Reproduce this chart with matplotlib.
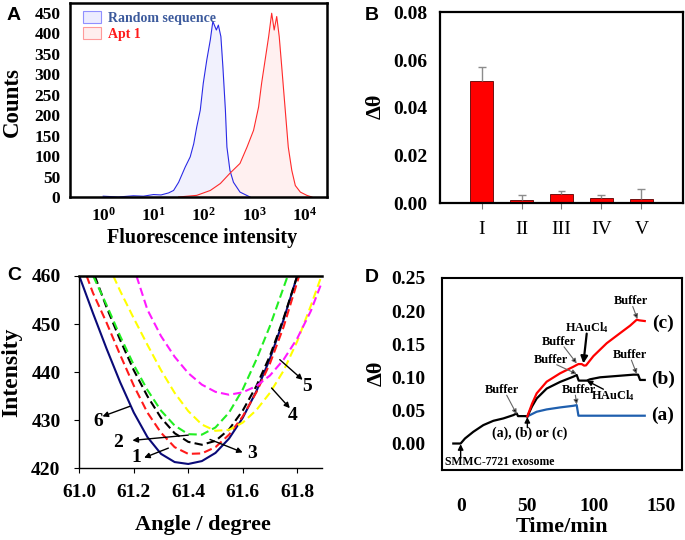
import numpy as np
import matplotlib
matplotlib.use("Agg")
import matplotlib.pyplot as plt
from matplotlib.patches import Patch

plt.rcParams['font.family'] = ['Liberation Serif', 'DejaVu Serif']
plt.rcParams['font.weight'] = 'bold'
plt.rcParams['axes.labelweight'] = 'bold'
plt.rcParams['mathtext.fontset'] = 'custom'
plt.rcParams['mathtext.rm'] = 'Liberation Serif:bold'
plt.rcParams['mathtext.it'] = 'Liberation Serif:bold'
plt.rcParams['mathtext.bf'] = 'Liberation Serif:bold'

# ---- A: flow cytometry histograms (x as log10 of intensity)
blue_logx = [0.0, 0.3, 0.6, 0.8, 1.0, 1.15, 1.3, 1.4, 1.5, 1.63, 1.73, 1.8, 1.86, 1.93,
             1.99, 2.06, 2.13, 2.18, 2.25, 2.29, 2.34, 2.38, 2.43, 2.46, 2.52, 2.59, 2.72, 2.92]
blue_counts = [2, 0, 3, 2, 6, 5, 10, 16, 36, 73, 98, 130, 171, 212,
               278, 335, 384, 429, 408, 420, 392, 318, 212, 122, 65, 36, 12, 0]
red_logx = [1.5, 1.86, 2.13, 2.33, 2.52, 2.72, 2.86, 2.99, 3.09, 3.15, 3.22, 3.29, 3.35,
            3.40, 3.45, 3.50, 3.55, 3.62, 3.68, 3.75, 3.82, 3.92, 4.05, 4.15]
red_counts = [0, 4, 16, 33, 58, 82, 122, 163, 220, 278, 335, 392, 449,
              408, 441, 392, 318, 212, 122, 65, 28, 12, 4, 0]
legend_labels = ["Random sequence", "Apt 1"]

# ---- B: bar chart
groups = ["I", "II", "III", "IV", "V"]
dtheta = [0.0513, 0.0014, 0.0038, 0.0021, 0.0018]
dtheta_err = [0.0057, 0.0021, 0.0012, 0.0014, 0.0041]

# ---- C: SPR curves
c1_x = [61.027, 61.05, 61.10, 61.15, 61.20, 61.25, 61.30, 61.35, 61.40, 61.45, 61.50, 61.55, 61.60, 61.65, 61.70, 61.75, 61.807]
c1_y = [460, 456.5, 450.3, 443.6, 437.2, 431.6, 427.4, 424.4, 423.0, 423.1, 424.4, 427.0, 430.8, 435.8, 441.8, 449.4, 460]
c2_x = [61.051, 61.10, 61.15, 61.20, 61.25, 61.30, 61.35, 61.40, 61.45, 61.50, 61.55, 61.60, 61.65, 61.70, 61.74, 61.765]
c2_y = [460, 454.0, 447.5, 441.5, 436.3, 432.0, 428.9, 427.1, 427.0, 428.5, 431.6, 436.4, 442.6, 449.6, 456.0, 460]
c3_x = [61.057, 61.10, 61.15, 61.20, 61.25, 61.30, 61.35, 61.40, 61.45, 61.50, 61.55, 61.60, 61.65, 61.70, 61.75, 61.80]
c3_y = [460, 453.5, 446.7, 440.4, 435.0, 430.5, 427.3, 425.5, 424.9, 425.7, 428.1, 432.0, 437.1, 443.4, 451.2, 460]
c4_x = [61.125, 61.15, 61.20, 61.25, 61.30, 61.35, 61.40, 61.45, 61.50, 61.55, 61.60, 61.65, 61.70, 61.75, 61.80, 61.85, 61.889]
c4_y = [460, 456.9, 451.2, 445.7, 440.4, 435.7, 431.9, 429.1, 427.8, 428.0, 429.5, 432.1, 435.7, 440.3, 446.4, 453.8, 460]
c5_x = [61.21, 61.25, 61.30, 61.35, 61.40, 61.45, 61.50, 61.55, 61.60, 61.65, 61.70, 61.75, 61.80, 61.85, 61.889]
c5_y = [460, 453.0, 447.5, 443.2, 439.8, 437.4, 435.9, 435.3, 435.8, 437.1, 439.3, 442.6, 447.0, 452.7, 458.5]
c6_x = [61.00, 61.05, 61.10, 61.15, 61.20, 61.25, 61.30, 61.35, 61.40, 61.45, 61.50, 61.55, 61.60, 61.65, 61.70, 61.75, 61.80]
c6_y = [460, 452.3, 444.9, 437.9, 431.6, 426.5, 423.0, 421.3, 420.9, 421.5, 423.2, 426.2, 430.5, 436.0, 442.8, 450.9, 460]

# ---- D: sensorgrams
d0_t = [-5.5, 0, 3.25, 9.5, 17, 24.5, 32, 39.5, 42, 43, 48.25, 50]
d0_y = [0, 0, 0.0076, 0.0177, 0.0278, 0.0343, 0.0379, 0.0429, 0.0455, 0.0414, 0.0414, 0.041]
da_t = [50, 57, 64.5, 74.5, 84.5, 87, 88.3, 138]
da_y = [0.041, 0.048, 0.0515, 0.0545, 0.057, 0.058, 0.042, 0.042]
db_t = [50, 53.5, 57, 64.5, 74.5, 84.5, 87, 88.5, 94.5, 97, 104.5, 117, 129.5, 133, 134.5, 138]
db_y = [0.041, 0.056, 0.068, 0.083, 0.093, 0.101, 0.1035, 0.095, 0.095, 0.097, 0.100, 0.102, 0.104, 0.104, 0.096, 0.096]
dc_t = [50, 53.5, 57, 64.5, 74.5, 84.5, 88.25, 90.75, 92.5, 94, 99.5, 109.5, 119.5, 127, 132, 134, 138]
dc_y = [0.041, 0.060, 0.0758, 0.0934, 0.106, 0.116, 0.120, 0.120, 0.1177, 0.118, 0.132, 0.1515, 0.1667, 0.178, 0.187, 0.186, 0.185]

W, H = 685, 540
fig = plt.figure(figsize=(W / 100, H / 100), dpi=100)


def box(l, t, r, b):
    return [l / W, 1 - b / H, (r - l) / W, (b - t) / H]


# ================= A
axA = fig.add_axes(box(70, 3, 327, 197))
bx = 10 ** np.array(blue_logx)
rx = 10 ** np.array(red_logx)
axA.fill_between(bx, blue_counts, color='#f1f1fd', lw=0)
axA.fill_between(rx, red_counts, color='#fff0f0', lw=0)
axA.plot(bx, blue_counts, color='#2a2ae6', lw=0.8)
axA.plot(rx, red_counts, color='#ff2a2a', lw=0.8)
axA.set_xscale('log')
axA.set_xlim(10 ** -0.66, 10 ** 4.45)
axA.set_ylim(0, 474)
axA.set_xticks([1, 10, 100, 1000, 10000])
axA.set_xticklabels(['10$^{%d}$' % k for k in range(5)])
axA.xaxis.set_minor_locator(plt.NullLocator())
axA.set_yticks(range(0, 451, 50))
axA.tick_params(length=0, labelsize=12.5, pad=7)
for s in axA.spines.values():
    s.set_linewidth(1.8)
axA.set_xlabel('Fluorescence intensity', fontsize=14.5)
axA.set_ylabel('Counts', fontsize=16.5)
axA.xaxis.set_label_coords(0.516, -0.211)
axA.yaxis.set_label_coords(-0.226, 0.487)
axA.xaxis.label.set_va('center')
axA.yaxis.label.set_va('center')
handles = [Patch(facecolor='#ececff', edgecolor='#9090ff', lw=0.8),
           Patch(facecolor='#ffeeee', edgecolor='#ff9a9a', lw=0.8)]
axA.legend(handles, legend_labels, loc='upper left', bbox_to_anchor=(0.028, 0.985),
           frameon=False, fontsize=10, handlelength=1.3, handleheight=0.9,
           handletextpad=0.5, labelspacing=0.15, borderaxespad=0,
           labelcolor=['#3c5a9c', '#ff1a1a'])

# ================= B
axB = fig.add_axes(box(440, 12.3, 683, 203.3))
pos = np.arange(1, len(groups) + 1)
vals = np.array(dtheta)
errs = np.array(dtheta_err)
axB.bar(pos, vals, width=0.58, color='#ff0000', edgecolor='#5a0000', lw=0.6, zorder=2)
axB.vlines(pos, vals, vals + errs, color='#8c8c8c', lw=1, zorder=3)
axB.hlines(vals + errs, pos - 0.1, pos + 0.1, color='#8c8c8c', lw=1, zorder=3)
axB.set_xlim(-0.04, 6.04)
axB.set_ylim(0, 0.08)
axB.set_xticks(pos)
axB.set_xticklabels(groups, fontweight='normal', fontsize=14)
axB.set_yticks([0, 0.02, 0.04, 0.06, 0.08])
axB.set_yticklabels(['0.00', '0.02', '0.04', '0.06', '0.08'])
axB.tick_params(axis='y', length=0, labelsize=14, pad=9)
axB.tick_params(axis='x', length=4, width=0.8, color='#777777', pad=9)
for s in axB.spines.values():
    s.set_linewidth(1.6)
axB.set_ylabel('Δθ', fontsize=16)
axB.yaxis.set_label_coords(-0.265, 0.506)
axB.yaxis.label.set_va('center')

# ================= C
axC = fig.add_axes(box(79.3, 276, 321.7, 468.3))
dash = (4, 2)
axC.plot(c6_x, c6_y, color='#0a0a78', lw=1.5)
axC.plot(c1_x, c1_y, color='#ff1a1a', lw=1.5, dashes=dash)
axC.plot(c3_x, c3_y, color='black', lw=1.5, dashes=dash)
axC.plot(c2_x, c2_y, color='#22ee22', lw=1.5, dashes=dash)
axC.plot(c4_x, c4_y, color='#ffff00', lw=1.5, dashes=dash)
axC.plot(c5_x, c5_y, color='#ff1aff', lw=1.5, dashes=dash)
axC.set_xlim(61.0, 61.89)
axC.set_ylim(420, 460)
axC.set_xticks([61.0, 61.2, 61.4, 61.6, 61.8])
axC.set_xticklabels(['61.0', '61.2', '61.4', '61.6', '61.8'])
axC.set_yticks([420, 430, 440, 450, 460])
axC.tick_params(length=3.5, width=0.8, labelsize=14)
axC.tick_params(axis='y', pad=10)
axC.tick_params(axis='x', pad=8)
axC.spines['right'].set_visible(False)
axC.spines['top'].set_linewidth(1.8)
axC.spines['left'].set_linewidth(1.0)
axC.spines['bottom'].set_linewidth(1.0)
axC.set_xlabel('Angle / degree', fontsize=16)
axC.set_ylabel('Intensity', fontsize=17)
axC.xaxis.set_label_coords(0.512, -0.295)
axC.yaxis.set_label_coords(-0.279, 0.502)
axC.xaxis.label.set_va('center')
axC.yaxis.label.set_va('center')
arrC = dict(arrowstyle='-|>', color='black', lw=1.0, mutation_scale=8, shrinkA=0, shrinkB=0)
for lab, tail, head, tpos in [('6', (61.186, 432.9), (61.085, 430.8), (61.07, 429.8)),
                              ('2', (61.40, 426.9), (61.195, 425.8), (61.143, 425.3)),
                              ('1', (61.327, 424.2), (61.238, 422.2), (61.208, 422.3)),
                              ('3', (61.48, 426.0), (61.60, 423.3), (61.636, 423.0)),
                              ('5', (61.736, 442.6), (61.82, 438.4), (61.837, 437.0)),
                              ('4', (61.706, 436.7), (61.773, 432.5), (61.783, 431.0))]:
    axC.annotate('', xy=head, xytext=tail, arrowprops=arrC)
    axC.text(tpos[0], tpos[1], lab, fontsize=14, ha='center', va='center')

# ================= D
axD = fig.add_axes(box(441.7, 278, 681.7, 470))
axD.plot(d0_t, d0_y, color='black', lw=1.6)
axD.plot(da_t, da_y, color='#1f5fae', lw=1.6)
axD.plot(db_t, db_y, color='black', lw=1.6)
axD.plot(dc_t, dc_y, color='#ff0000', lw=1.6)
axD.set_xlim(-14.2, 165.7)
axD.set_ylim(-0.04, 0.25)
axD.set_xticks([0, 50, 100, 150])
axD.set_yticks([0, 0.05, 0.10, 0.15, 0.20, 0.25])
axD.set_yticklabels(['0.00', '0.05', '0.10', '0.15', '0.20', '0.25'])
axD.tick_params(length=0, labelsize=14)
axD.tick_params(axis='y', pad=12)
axD.tick_params(axis='x', pad=20)
for s in axD.spines.values():
    s.set_linewidth(1.5)
axD.set_xlabel('Time/min', fontsize=16)
axD.set_ylabel('Δθ', fontsize=16)
axD.xaxis.set_label_coords(0.5, -0.297)
axD.yaxis.set_label_coords(-0.271, 0.505)
axD.xaxis.label.set_va('center')
axD.yaxis.label.set_va('center')

gray_arr = dict(arrowstyle='-|>', ec='#666666', fc='black', lw=0.8, mutation_scale=7, shrinkA=0, shrinkB=0)
blk_arr = dict(arrowstyle='-|>', color='black', lw=1.0, mutation_scale=8, shrinkA=0, shrinkB=0)
bold_arr = dict(arrowstyle='-|>', color='black', lw=1.6, mutation_scale=10, shrinkA=0, shrinkB=0)
hau = 'HAuCl$_4$'
notes = [
    ('Buffer', (30.75, 0.081), (34.5, 0.073), (42, 0.0444), gray_arr),
    ('Buffer', (67.75, 0.126), (72, 0.119), (87, 0.105), gray_arr),
    ('Buffer', (74, 0.153), (77.5, 0.146), (87, 0.121), gray_arr),
    ('Buffer', (88.5, 0.081), (86, 0.073), (87, 0.059), gray_arr),
    ('Buffer', (127, 0.134), (128, 0.126), (132, 0.105), gray_arr),
    ('Buffer', (128, 0.215), (129, 0.207), (132.5, 0.188), gray_arr),
    (hau, (94.5, 0.175), (94.5, 0.166), (92, 0.121), bold_arr),
    (hau, (114, 0.072), (107, 0.082), (94.5, 0.095), blk_arr),
    ('(a), (b) or (c)', (52, 0.015), (50, 0.024), (50, 0.040), blk_arr),
]
for txt, tpos, tail, head, ap in notes:
    axD.annotate('', xy=head, xytext=tail, arrowprops=ap)
    axD.text(tpos[0], tpos[1], txt, fontsize=10 if txt.startswith('(a)') else 8.8,
             ha='center', va='center')
axD.annotate('', xy=(0, -0.001), xytext=(0, -0.0225), arrowprops=blk_arr)
axD.text(-11.8, -0.028, 'SMMC-7721 exosome', fontsize=8.5, ha='left', va='center')
for lab, y in [('(c)', 0.182), ('(b)', 0.097), ('(a)', 0.043)]:
    axD.text(151.5, y, lab, fontsize=14, ha='center', va='center')

# panel letters
for lab, x, y in [('A', 14, 15), ('B', 372, 15), ('C', 14, 275), ('D', 372, 277)]:
    fig.text(x / W, 1 - y / H, lab, fontsize=14, fontweight='bold',
             family='Liberation Sans', ha='center', va='center')

fig.savefig('out.png', dpi=100)
